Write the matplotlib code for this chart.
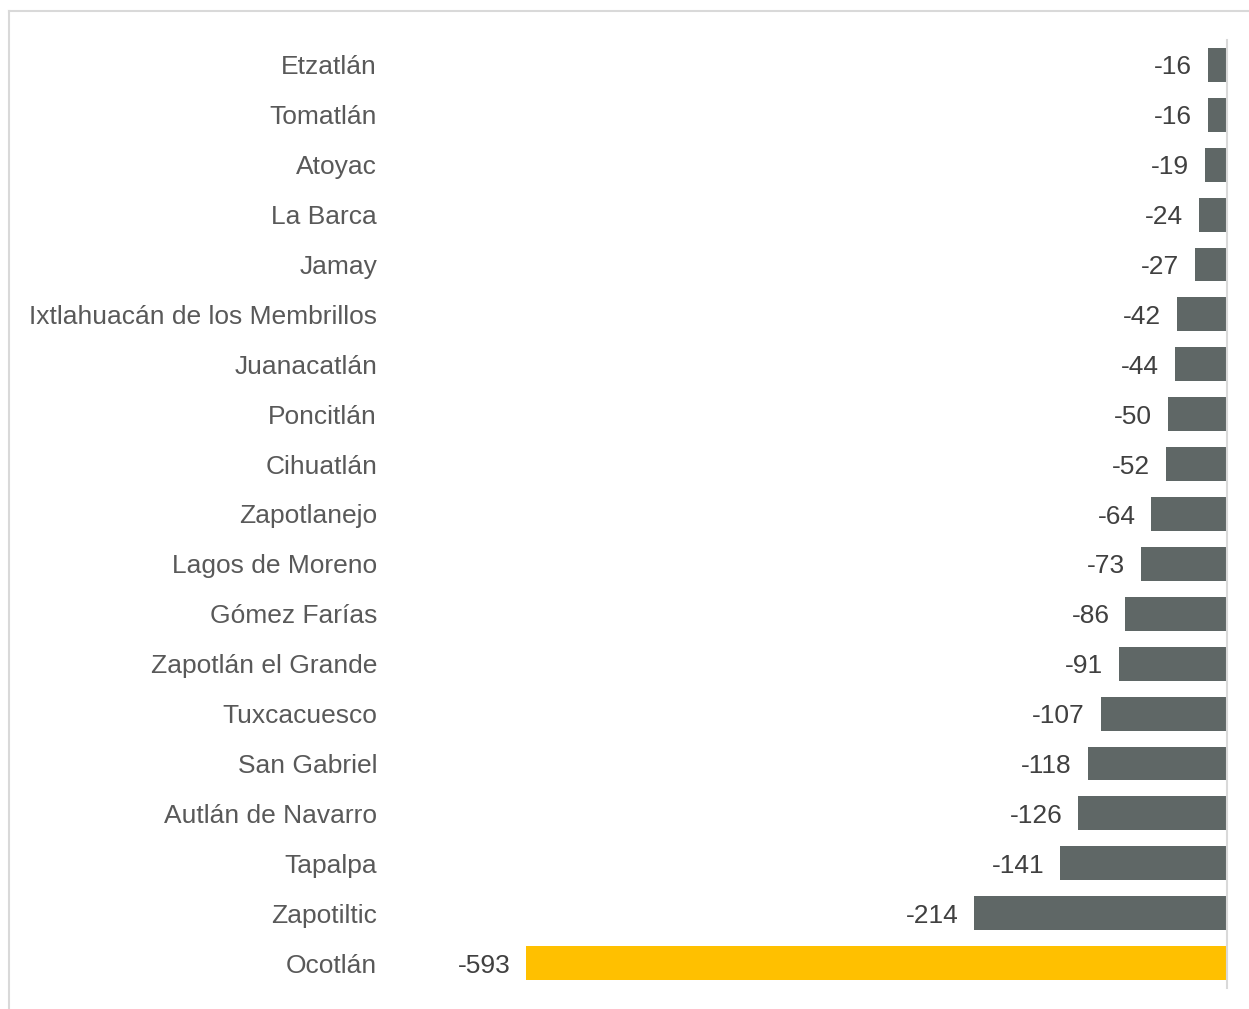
import matplotlib.pyplot as plt
from matplotlib.lines import Line2D

plt.rcParams['font.family'] = ['Liberation Sans', 'DejaVu Sans']

municipios = ['Etzatlán', 'Tomatlán', 'Atoyac', 'La Barca', 'Jamay',
              'Ixtlahuacán de los Membrillos', 'Juanacatlán', 'Poncitlán',
              'Cihuatlán', 'Zapotlanejo', 'Lagos de Moreno', 'Gómez Farías',
              'Zapotlán el Grande', 'Tuxcacuesco', 'San Gabriel',
              'Autlán de Navarro', 'Tapalpa', 'Zapotiltic', 'Ocotlán']
valores = [-16, -16, -19, -24, -27, -42, -44, -50, -52, -64, -73, -86,
           -91, -107, -118, -126, -141, -214, -593]
destacado = 'Ocotlán'

gris = '#5f6766'
amarillo = '#ffc000'
colores = [amarillo if m == destacado else gris for m in municipios]

fig = plt.figure(figsize=(12.49, 10.09), dpi=100)
ax = fig.add_axes([400/1249, 21/1009, 827/1249, 948/1009])

y = list(range(len(municipios)))
ax.barh(y, valores, height=0.68, color=colores)

for yi, v in zip(y, valores):
    ax.annotate(str(v), xy=(v, yi), xytext=(-16, 0), textcoords='offset pixels',
                ha='right', va='center_baseline', fontsize=19, color='#404040')

ax.set_xlim(-700, 0)
ax.set_ylim(len(municipios) - 0.5, -0.5)
ax.set_yticks(y)
ax.set_yticklabels(municipios, fontsize=19, color='#595959')
ax.tick_params(axis='y', length=0, pad=16.5)
ax.set_xticks([])
for s in ['top', 'bottom', 'left']:
    ax.spines[s].set_visible(False)
ax.spines['right'].set_color('#d9d9d9')
ax.spines['right'].set_linewidth(1.5)

# marco del grafico
fig.add_artist(Line2D([9/1249, 1], [1 - 11/1009, 1 - 11/1009], color='#d9d9d9', lw=1.5))
fig.add_artist(Line2D([9/1249, 9/1249], [0, 1 - 11/1009], color='#d9d9d9', lw=1.5))

fig.savefig('out.png', dpi=100)
